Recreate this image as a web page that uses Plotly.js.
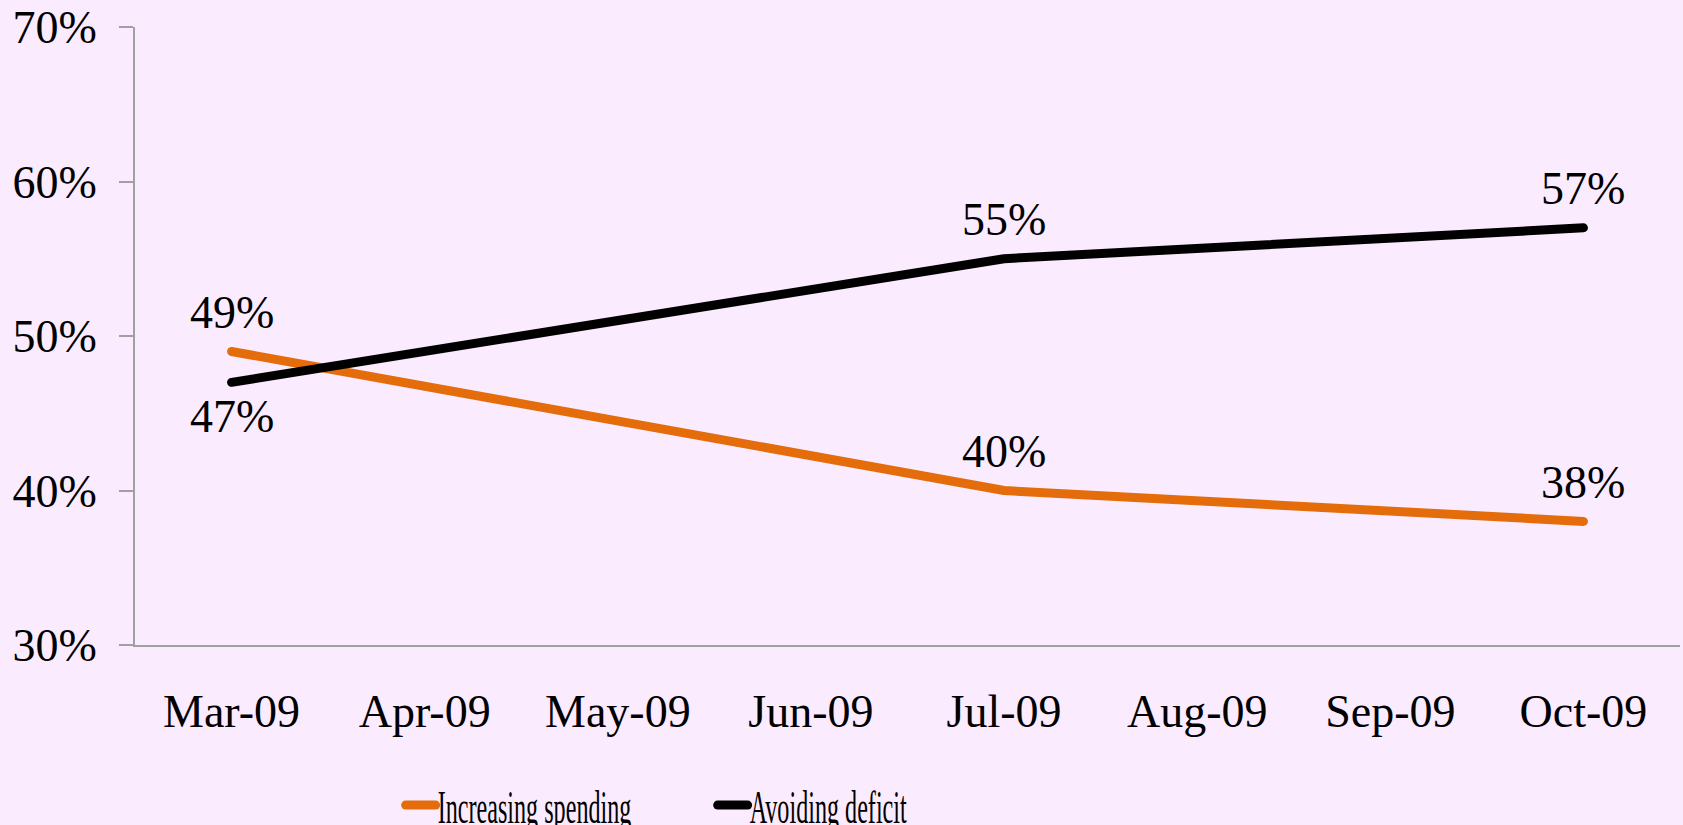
<!DOCTYPE html>
<html>
<head>
<meta charset="utf-8">
<script src="https://cdn.plot.ly/plotly-3.0.1.min.js"></script>
<style>
html,body{margin:0;padding:0;background:#FBEBFE;}
#chart{width:1683px;height:825px;}
</style>
</head>
<body>
<div id="chart"></div>
<script>
var months = ['Mar-09','Apr-09','May-09','Jun-09','Jul-09','Aug-09','Sep-09','Oct-09'];
var surveyMonths = ['Mar-09','Jul-09','Oct-09'];
var increasingSpending = [49, 40, 38];
var avoidingDeficit = [47, 55, 57];
var spendingLabelSide = ['above','above','above'];
var deficitLabelSide = ['below','above','above'];
var tickVals = [30, 40, 50, 60, 70];
var tickText = ['30%','40%','50%','60%','70%'];

var FONT = 'Liberation Serif, Times New Roman, serif';
var ORANGE = '#E46C0A';
var BLACK = '#000000';

var traces = [
  {x: surveyMonths, y: increasingSpending, name: 'Increasing spending', mode: 'lines',
   line: {color: ORANGE, width: 9}, hoverinfo: 'skip'},
  {x: surveyMonths, y: avoidingDeficit, name: 'Avoiding deficit', mode: 'lines',
   line: {color: BLACK, width: 9}, hoverinfo: 'skip'}
];

var annotations = [];
function addLabels(xs, ys, sides) {
  for (var i = 0; i < xs.length; i++) {
    annotations.push({
      x: xs[i], y: ys[i], xref: 'x', yref: 'y', text: ys[i] + '%', showarrow: false,
      yshift: sides[i] === 'above' ? 39 : -34,
      font: {family: FONT, size: 46, color: '#000'}
    });
  }
}
addLabels(surveyMonths, increasingSpending, spendingLabelSide);
addLabels(surveyMonths, avoidingDeficit, deficitLabelSide);

var layout = {
  width: 1683, height: 825,
  paper_bgcolor: '#FBEBFE', plot_bgcolor: '#FBEBFE',
  margin: {l: 135, r: 3, t: 27, b: 180, autoexpand: false},
  font: {family: FONT, size: 46, color: '#000'},
  showlegend: true,
  legend: {orientation: 'h', x: 0.17, xanchor: 'left', yref: 'container', y: 0.024, yanchor: 'middle',
           font: {family: FONT, size: 46, color: '#000'}, entrywidth: 267, entrywidthmode: 'pixels',
           itemwidth: 30, bgcolor: 'rgba(0,0,0,0)'},
  xaxis: {type: 'category', categoryorder: 'array', categoryarray: months, automargin: false,
          tickvals: months, range: [-0.5, 7.5], showgrid: false, zeroline: false,
          showline: true, linecolor: '#A0A0A0', linewidth: 2, ticks: '',
          ticklabelstandoff: 25, tickfont: {family: FONT, size: 46}},
  yaxis: {range: [30, 70], tickvals: tickVals, ticktext: tickText, showgrid: false, automargin: false,
          zeroline: false, showline: true, linecolor: '#A0A0A0', linewidth: 2,
          ticks: 'outside', ticklen: 14, tickcolor: '#A0A0A0', tickwidth: 2,
          ticklabelstandoff: 13, tickfont: {family: FONT, size: 46}},
  annotations: annotations
};

Plotly.newPlot('chart', traces, layout, {displayModeBar: false, staticPlot: true}).then(function(){
  document.querySelectorAll('#chart .legendtext').forEach(function(t){
    var x = parseFloat(t.getAttribute('x')) || 40;
    t.style.transformOrigin = x + 'px 0px';
    t.style.transform = 'scaleX(0.525)';
  });
  document.querySelectorAll('#chart .legendlines path').forEach(function(p){
    p.setAttribute('d', 'M8,0h30');
    p.style.strokeLinecap = 'round';
  });
  document.querySelectorAll('#chart .scatterlayer .js-line').forEach(function(p){
    p.style.strokeLinecap = 'round';
    p.style.strokeLinejoin = 'round';
  });
});
</script>
</body>
</html>
